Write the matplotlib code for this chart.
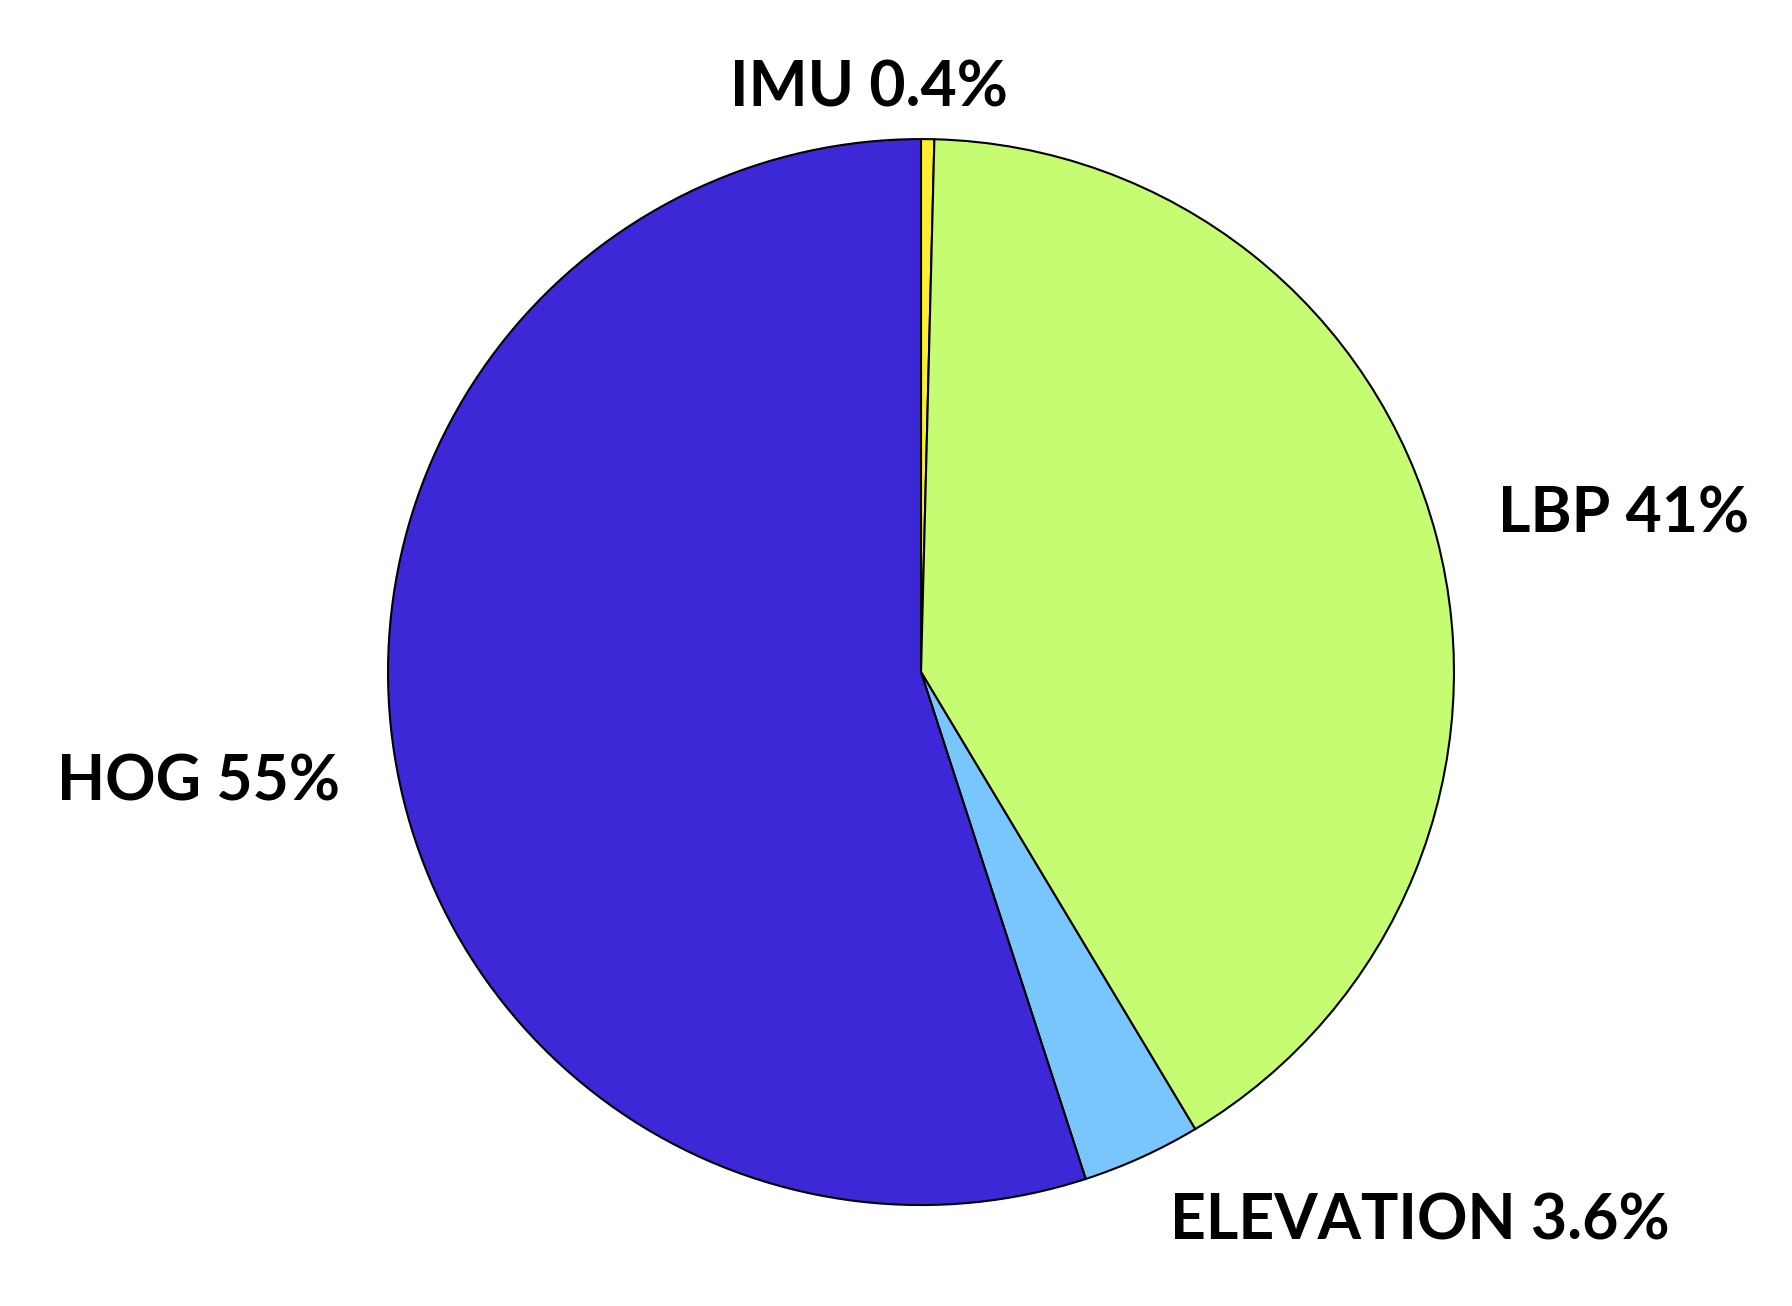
import matplotlib
matplotlib.use("Agg")
import matplotlib.pyplot as plt

labels = ["IMU", "LBP", "ELEVATION", "HOG"]
values = [0.4, 41, 3.6, 55]
pct_text = ["0.4%", "41%", "3.6%", "55%"]
colors = ["#FFEE2E", "#C6FC72", "#78C6FC", "#3C28D6"]

fig = plt.figure(figsize=(17.92, 13.06), dpi=100)
ax = fig.add_axes([0.2165, 0.0773, 0.5949, 0.8162])
ax.pie(values, colors=colors, startangle=90, counterclock=False, radius=1,
       wedgeprops=dict(edgecolor="black", linewidth=1.5))
ax.set_xlim(-1, 1)
ax.set_ylim(-1, 1)
ax.set_aspect("equal")
ax.axis("off")

label_pos = [(-0.098, 1.094), (1.319, 0.296), (0.936, -1.031), (-1.356, -0.208)]
for lab, pt, (x, y) in zip(labels, pct_text, label_pos):
    ax.text(x, y, f"{lab} {pt}", ha="center", va="center", fontsize=45,
            family=["Lato", "DejaVu Sans"], fontweight="bold", clip_on=False)

fig.savefig("out.png", dpi=100, facecolor="white")
